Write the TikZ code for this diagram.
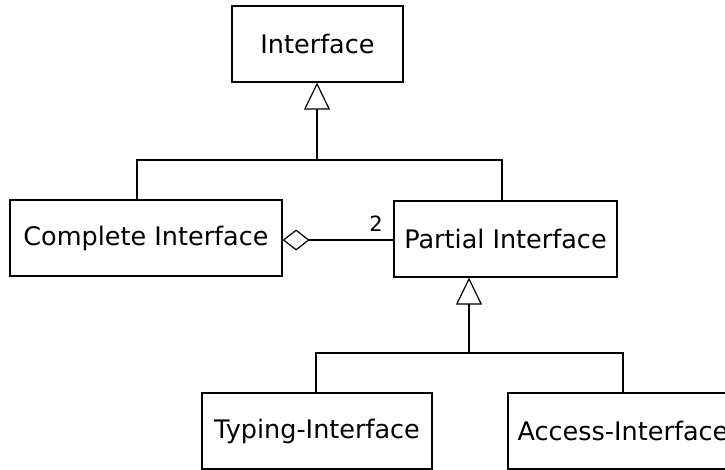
\documentclass[tikz,border=0pt]{standalone}
\usepackage{fontspec}
\setmainfont{DejaVu Sans}
\usetikzlibrary{arrows.meta}
\tikzset{
  cls/.style={draw, line width=1.2pt, minimum height=76pt, inner sep=0pt, font=\fontsize{25.5}{30}\selectfont},
  conn/.style={line width=1.2pt},
  gen/.style={conn, -{Triangle[open, length=27pt, width=26pt, line width=1.2pt]}},
  agg/.style={conn, {Diamond[open, length=27pt, width=21pt, line width=1.2pt]}-},
  lbl/.style={inner sep=0pt, font=\fontsize{21}{24}\selectfont}
}
\begin{document}
\begin{tikzpicture}[x=1pt,y=-1pt]
\useasboundingbox (0,0) rectangle (725,469);
\clip (0,0) rectangle (725,469);
\node[cls, minimum width=171pt] (iface) at (317.5,44) {Interface};
\node[cls, minimum width=272pt] (complete) at (146,238) {Complete Interface};
\node[cls, minimum width=223pt] (partial) at (505.5,239) {Partial Interface};
\node[cls, minimum width=230pt] (typing) at (317,431) {Typing-Interface};
\node[cls, minimum width=230pt] (access) at (623,431) {Access-Interface};
% generalization 1
\coordinate (j1) at (317,160);
\coordinate (c1) at (137,160);
\coordinate (p1) at (502,160);
\draw[gen] (j1) -- (iface.south -| j1);
\draw[conn] (complete.north -| c1) -- (c1) -- (p1) -- (partial.north -| p1);
% generalization 2
\coordinate (j2) at (469,353);
\draw[gen] (j2) -- (partial.south -| j2);
\draw[conn] (typing.north -| 316,0) |- (j2) -| (access.north);
% aggregation
\draw[agg] (complete.east |- 0,240) -- (partial.west |- 0,240);
\node[lbl] (mult) at (376,224) {2};
\end{tikzpicture}
\end{document}
